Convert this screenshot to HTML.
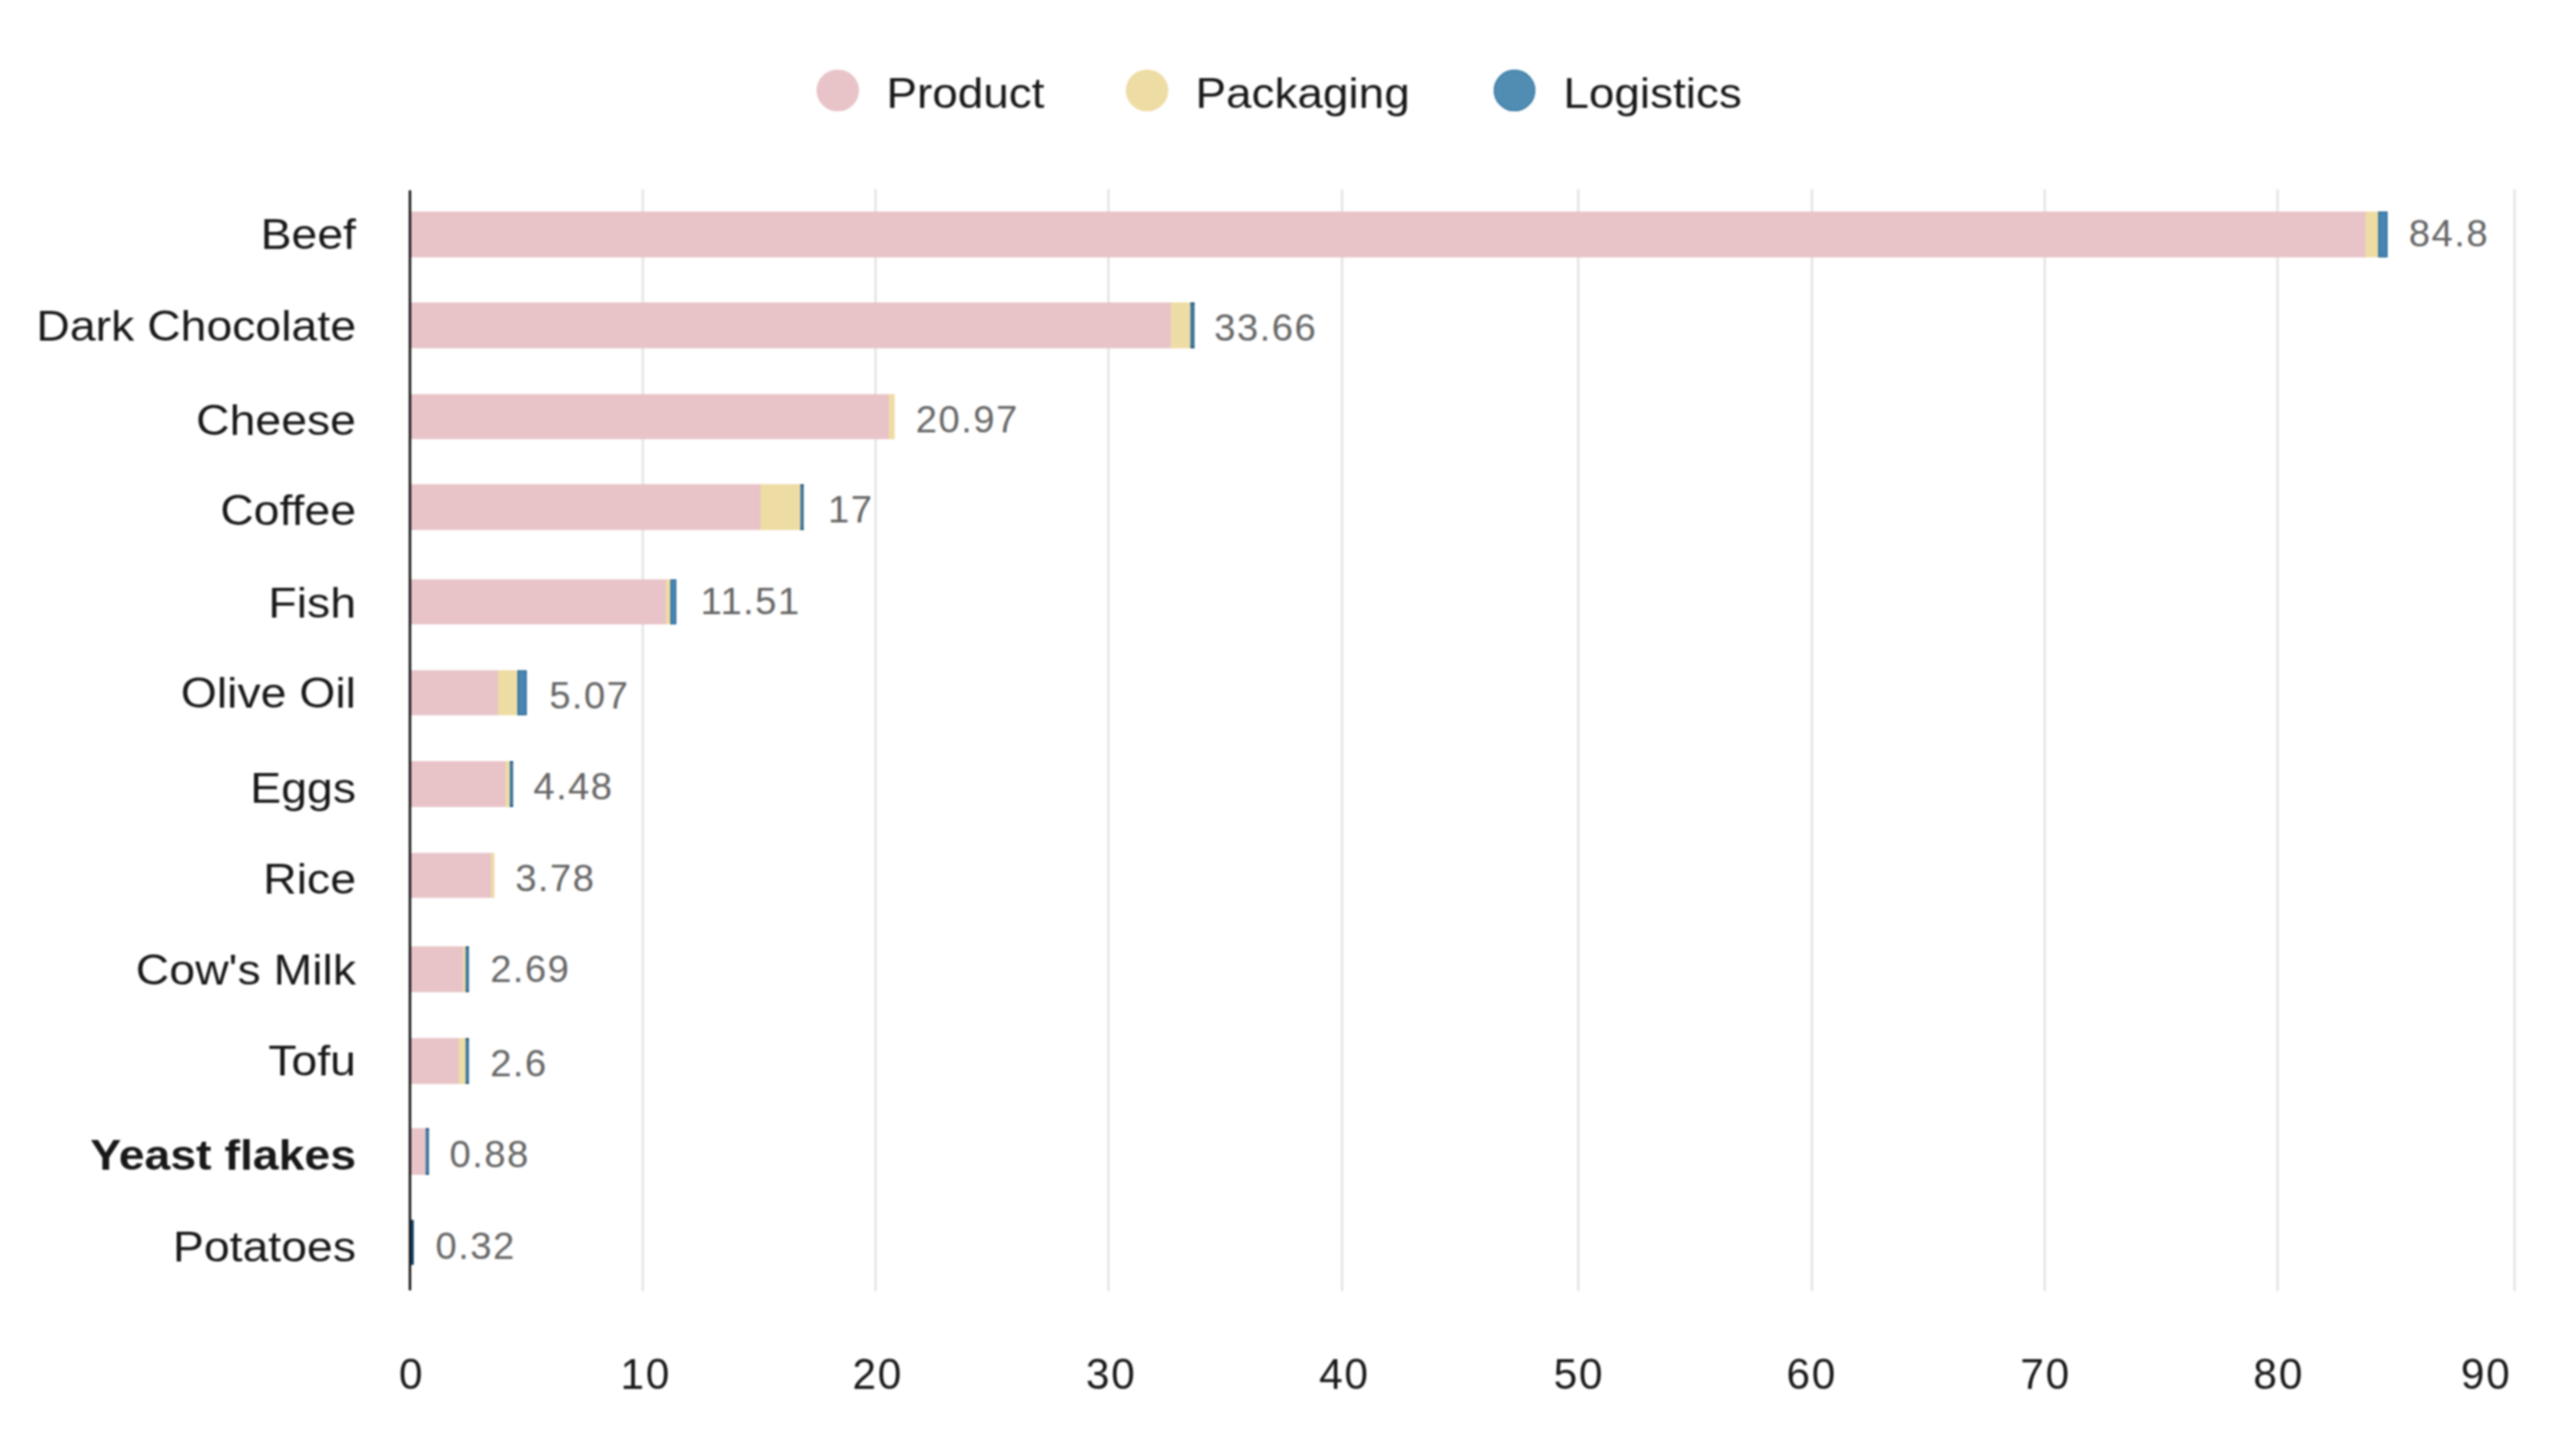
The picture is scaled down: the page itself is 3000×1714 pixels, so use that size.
<!DOCTYPE html>
<html><head><meta charset="utf-8"><title>Carbon footprint by product</title>
<style>
html,body{margin:0;padding:0;background:#fff;}
body{width:3000px;height:1714px;position:relative;overflow:hidden;font-family:"Liberation Sans", Arial, Helvetica, sans-serif;}
#w{position:absolute;left:0;top:0;width:3000px;height:1714px;background:#fff;filter:blur(1px);}
.a{position:absolute;}
.t{position:absolute;white-space:nowrap;line-height:1;}
.cat{font-size:54.6px;color:#181818;text-align:right;transform:scaleY(0.905);transform-origin:50% 48.85%;}
.val{font-size:45px;color:#666;letter-spacing:1.7px;}
.tick{font-size:50px;color:#181818;letter-spacing:2px;text-align:center;width:200px;}
.leg{font-size:54px;color:#181818;transform:scaleY(0.935);transform-origin:50% 48.85%;}
.g{position:absolute;top:223px;height:1297px;width:3px;background:#e6e6e6;}
.dot{position:absolute;border-radius:50%;}
</style></head><body><div id="w">

<div class="dot" style="left:961.15px;top:81.75px;width:49.5px;height:49.5px;background:#e8c4c8;"></div>
<div class="t leg" style="left:1043.2px;top:81.62px">Product</div>
<div class="dot" style="left:1325.25px;top:81.75px;width:49.5px;height:49.5px;background:#eedca5;"></div>
<div class="t leg" style="left:1407px;top:81.62px">Packaging</div>
<div class="dot" style="left:1757.95px;top:81.75px;width:49.5px;height:49.5px;background:#518cb3;box-shadow:inset 0 0 0 1.5px #3f7fa8;"></div>
<div class="t leg" style="left:1840px;top:81.62px">Logistics</div>
<div class="g" style="left:754.9px"></div>
<div class="g" style="left:1029px"></div>
<div class="g" style="left:1303.4px"></div>
<div class="g" style="left:1578px"></div>
<div class="g" style="left:1856.4px"></div>
<div class="g" style="left:2130.8px"></div>
<div class="g" style="left:2404.9px"></div>
<div class="g" style="left:2679px"></div>
<div class="g" style="left:2957.9px"></div>
<div class="a" style="left:482px;top:249px;width:2302.3px;height:54.4px;background:#e8c4c8;"></div>
<div class="a" style="left:2784.3px;top:249px;width:14.5px;height:54.4px;background:#eedca5;"></div>
<div class="a" style="left:2798.8px;top:249px;width:11.6px;height:54.4px;background:#4785b2;box-sizing:border-box;border:1.8px solid #1a5d8c;"></div>
<div class="t cat" style="right:2581px;top:250.48px;">Beef</div>
<div class="t val" style="left:2835px;top:252.47px">84.8</div>
<div class="a" style="left:482px;top:356px;width:896.4px;height:54.3px;background:#e8c4c8;"></div>
<div class="a" style="left:1378.4px;top:356px;width:22.4px;height:54.3px;background:#eedca5;"></div>
<div class="a" style="left:1400.8px;top:356px;width:4.8px;height:54.3px;background:#3f769c;box-sizing:border-box;border-top:2px solid #1d5479;border-bottom:2px solid #1d5479;"></div>
<div class="t cat" style="right:2581px;top:357.53px;">Dark Chocolate</div>
<div class="t val" style="left:1429px;top:363.37px">33.66</div>
<div class="a" style="left:482px;top:463.8px;width:563.7px;height:53.7px;background:#e8c4c8;"></div>
<div class="a" style="left:1045.7px;top:463.8px;width:6.9px;height:53.7px;background:#eedca5;"></div>
<div class="t cat" style="right:2581px;top:468.73px;">Cheese</div>
<div class="t val" style="left:1077.8px;top:470.72px">20.97</div>
<div class="a" style="left:482px;top:570.1px;width:413.4px;height:53.9px;background:#e8c4c8;"></div>
<div class="a" style="left:895.4px;top:570.1px;width:47px;height:53.9px;background:#eedca5;"></div>
<div class="a" style="left:942.4px;top:570.1px;width:3.9px;height:53.9px;background:#3f769c;box-sizing:border-box;border-top:2px solid #1d5479;border-bottom:2px solid #1d5479;"></div>
<div class="t cat" style="right:2581px;top:575.43px;">Coffee</div>
<div class="t val" style="left:974.5px;top:577.27px">17</div>
<div class="a" style="left:482px;top:681.6px;width:301.9px;height:53.9px;background:#e8c4c8;"></div>
<div class="a" style="left:783.9px;top:681.6px;width:5.1px;height:53.9px;background:#eedca5;"></div>
<div class="a" style="left:789px;top:681.6px;width:7.4px;height:53.9px;background:#4785b2;box-sizing:border-box;border:1.8px solid #1a5d8c;"></div>
<div class="t cat" style="right:2581px;top:683.53px;">Fish</div>
<div class="t val" style="left:824.5px;top:684.82px">11.51</div>
<div class="a" style="left:482px;top:788.6px;width:104.3px;height:53.9px;background:#e8c4c8;"></div>
<div class="a" style="left:586.3px;top:788.6px;width:22.9px;height:53.9px;background:#eedca5;"></div>
<div class="a" style="left:609.2px;top:788.6px;width:11.2px;height:53.9px;background:#4785b2;box-sizing:border-box;border:1.8px solid #1a5d8c;"></div>
<div class="t cat" style="right:2581px;top:789.93px;">Olive Oil</div>
<div class="t val" style="left:646.4px;top:796.17px">5.07</div>
<div class="a" style="left:482px;top:896px;width:113.2px;height:54.3px;background:#e8c4c8;"></div>
<div class="a" style="left:595.2px;top:896px;width:4.8px;height:54.3px;background:#eedca5;"></div>
<div class="a" style="left:600px;top:896px;width:4.3px;height:54.3px;background:#3f769c;box-sizing:border-box;border-top:2px solid #1d5479;border-bottom:2px solid #1d5479;"></div>
<div class="t cat" style="right:2581px;top:901.73px;">Eggs</div>
<div class="t val" style="left:627.7px;top:903.12px">4.48</div>
<div class="a" style="left:482px;top:1003.6px;width:95.8px;height:53.5px;background:#e8c4c8;"></div>
<div class="a" style="left:577.8px;top:1003.6px;width:3.9px;height:53.5px;background:#eedca5;"></div>
<div class="t cat" style="right:2581px;top:1009.23px;">Rice</div>
<div class="t val" style="left:606.4px;top:1010.52px">3.78</div>
<div class="a" style="left:482px;top:1114.4px;width:62.5px;height:53.9px;background:#e8c4c8;"></div>
<div class="a" style="left:544.5px;top:1114.4px;width:3.8px;height:53.9px;background:#eedca5;"></div>
<div class="a" style="left:548.3px;top:1114.4px;width:4.1px;height:53.9px;background:#3f769c;box-sizing:border-box;border-top:2px solid #1d5479;border-bottom:2px solid #1d5479;"></div>
<div class="t cat" style="right:2581px;top:1115.63px;">Cow&#39;s Milk</div>
<div class="t val" style="left:576.9px;top:1117.62px">2.69</div>
<div class="a" style="left:482px;top:1221.6px;width:57.7px;height:54.4px;background:#e8c4c8;"></div>
<div class="a" style="left:539.7px;top:1221.6px;width:8.2px;height:54.4px;background:#eedca5;"></div>
<div class="a" style="left:547.9px;top:1221.6px;width:3.9px;height:54.4px;background:#3f769c;box-sizing:border-box;border-top:2px solid #1d5479;border-bottom:2px solid #1d5479;"></div>
<div class="t cat" style="right:2581px;top:1222.53px;">Tofu</div>
<div class="t val" style="left:576.9px;top:1228.92px">2.6</div>
<div class="a" style="left:482px;top:1328px;width:18.9px;height:55.1px;background:#e8c4c8;"></div>
<div class="a" style="left:500.9px;top:1328px;width:4.4px;height:55.1px;background:#3f769c;box-sizing:border-box;border-top:2px solid #1d5479;border-bottom:2px solid #1d5479;"></div>
<div class="t cat" style="right:2581px;top:1333.63px;font-weight:700;">Yeast flakes</div>
<div class="t val" style="left:529.1px;top:1336.42px">0.88</div>
<div class="a" style="left:483.5px;top:1436.3px;width:3.8px;height:52.7px;background:#123f66;"></div>
<div class="t cat" style="right:2581px;top:1442.03px;">Potatoes</div>
<div class="t val" style="left:512.5px;top:1443.92px">0.32</div>
<div class="a" style="left:480.9px;top:223.5px;width:2.8px;height:1295.5px;background:#1c1c1c;"></div>
<div class="t tick" style="left:384.4px;top:1593.17px">0</div>
<div class="t tick" style="left:660px;top:1593.17px">10</div>
<div class="t tick" style="left:933px;top:1593.17px">20</div>
<div class="t tick" style="left:1207.7px;top:1593.17px">30</div>
<div class="t tick" style="left:1482.3px;top:1593.17px">40</div>
<div class="t tick" style="left:1758.2px;top:1593.17px">50</div>
<div class="t tick" style="left:2032.2px;top:1593.17px">60</div>
<div class="t tick" style="left:2307.5px;top:1593.17px">70</div>
<div class="t tick" style="left:2581.9px;top:1593.17px">80</div>
<div class="t tick" style="left:2826.1px;top:1593.17px">90</div>
</div></body></html>
